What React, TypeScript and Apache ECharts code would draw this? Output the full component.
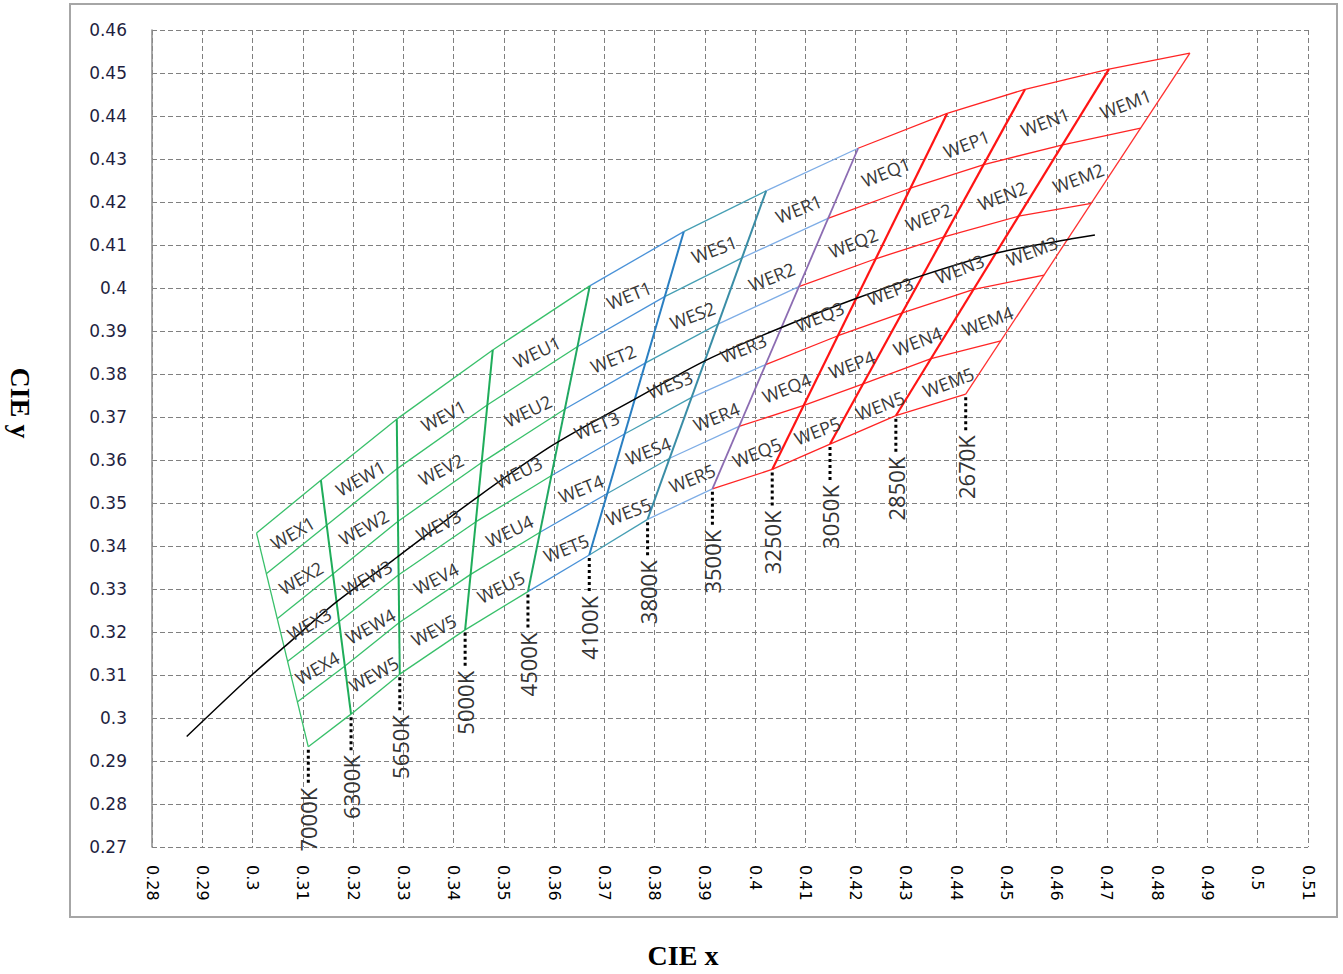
import React, { useEffect, useRef } from "react";
import * as echarts from "echarts";

// Bin columns (cool → warm) and CCT boundary labels
const columns = ["X", "W", "V", "U", "T", "S", "R", "Q", "P", "N", "M"];
const cctLabels = ["7000K", "6300K", "5650K", "5000K", "4500K", "4100K", "3800K", "3500K", "3250K", "3050K", "2850K", "2670K"];
const hiddenCells = ["WEX5"];

// Iso-CCT boundary lines: 6 vertices each, top → bottom (CIE x, CIE y)
const iso7000K = [[0.3008, 0.343], [0.3028, 0.3336], [0.3049, 0.3231], [0.307, 0.3132], [0.3089, 0.3037], [0.3111, 0.2933]];
const iso6300K = [[0.3136, 0.3553], [0.3148, 0.3449], [0.316, 0.3335], [0.3172, 0.3224], [0.3184, 0.3121], [0.3196, 0.3009]];
const iso5650K = [[0.3287, 0.3695], [0.3288, 0.358], [0.3289, 0.3457], [0.3291, 0.3333], [0.3292, 0.3222], [0.3293, 0.3102]];
const iso5000K = [[0.3478, 0.3856], [0.3467, 0.3728], [0.3456, 0.3594], [0.3444, 0.3456], [0.3434, 0.3334], [0.3423, 0.3205]];
const iso4500K = [[0.3671, 0.4005], [0.3647, 0.3864], [0.3621, 0.3718], [0.3595, 0.3564], [0.3572, 0.3432], [0.3548, 0.3294]];
const iso4100K = [[0.3858, 0.4131], [0.382, 0.398], [0.3782, 0.3826], [0.3741, 0.3661], [0.3706, 0.3522], [0.367, 0.3379]];
const iso3800K = [[0.4022, 0.4226], [0.3974, 0.407], [0.3926, 0.3916], [0.3873, 0.3745], [0.383, 0.3604], [0.3786, 0.3462]];
const iso3500K = [[0.4205, 0.4325], [0.4145, 0.4162], [0.4087, 0.4003], [0.4021, 0.3822], [0.3968, 0.3678], [0.3915, 0.3533]];
const iso3250K = [[0.4382, 0.4406], [0.4309, 0.4232], [0.424, 0.4068], [0.4165, 0.3889], [0.4097, 0.3727], [0.4034, 0.3578]];
const iso3050K = [[0.4537, 0.4462], [0.4455, 0.4287], [0.4376, 0.4119], [0.4293, 0.3942], [0.4215, 0.3777], [0.4149, 0.3637]];
const iso2850K = [[0.4704, 0.4509], [0.4612, 0.4333], [0.4524, 0.4167], [0.4435, 0.3997], [0.435, 0.3836], [0.428, 0.3703]];
const iso2670K = [[0.4865, 0.4546], [0.4767, 0.4372], [0.4669, 0.4197], [0.4575, 0.403], [0.4489, 0.3877], [0.4419, 0.3753]];
const boundaries = [iso7000K, iso6300K, iso5650K, iso5000K, iso4500K, iso4100K, iso3800K, iso3500K, iso3250K, iso3050K, iso2850K, iso2670K];

// Planckian locus (black curve)
const locusX = [0.2869, 0.2995, 0.3065, 0.3164, 0.328, 0.3293, 0.3449, 0.3598, 0.3758, 0.3904, 0.405, 0.4202, 0.4335, 0.4487, 0.462, 0.4676];
const locusY = [0.2957, 0.3096, 0.3167, 0.3267, 0.3367, 0.3379, 0.3515, 0.3635, 0.374, 0.3833, 0.3907, 0.3976, 0.403, 0.4083, 0.4112, 0.4123];

// Styles
const columnColors = ["#38c06a", "#38c06a", "#38c06a", "#38c06a", "#4a92d8", "#469fb4", "#7eade6", "#ff2424", "#ff2424", "#ff2424", "#ff2424"];
const boundaryColors = ["#38c06a", "#1fad5a", "#1fad5a", "#1fad5a", "#20a862", "#2a7fc2", "#3a8da6", "#8c6cb2", "#ff1414", "#ff1414", "#ff1414", "#ff3030"];
const boundaryWidths = [1.3, 2, 2, 2, 2, 2, 2, 1.8, 2.2, 2.2, 2.2, 1.3];
const labelAngles = [30, 29, 27, 26, 22, 21, 22, 22, 21, 21, 21];

const fmt = (v: number) => String(+Number(v).toFixed(2));

function segRender(color: string, width: number) {
  return (params: any, api: any) => {
    const p1 = api.coord([api.value(0), api.value(1)]);
    const p2 = api.coord([api.value(2), api.value(3)]);
    return {
      type: "line",
      silent: true,
      shape: { x1: p1[0], y1: p1[1], x2: p2[0], y2: p2[1] },
      style: { stroke: color, lineWidth: width },
    };
  };
}

export default function App() {
  const ref = useRef<HTMLDivElement>(null);
  useEffect(() => {
    if (!ref.current) return;
    const chart = echarts.init(ref.current, undefined, { renderer: "svg" });

    const series: any[] = [];
    // row segments per column
    columns.forEach((col, c) => {
      const data: number[][] = [];
      for (let r = 0; r < 6; r++) {
        const a = boundaries[c][r];
        const b = boundaries[c + 1][r];
        data.push([a[0], a[1], b[0], b[1]]);
      }
      series.push({
        type: "custom",
        name: "row" + col,
        data,
        encode: { x: [0, 2], y: [1, 3] },
        renderItem: segRender(columnColors[c], 1.3),
        z: 2,
      });
    });
    // iso-CCT boundaries
    boundaries.forEach((bd, i) => {
      series.push({
        type: "custom",
        name: "iso" + cctLabels[i],
        data: [[bd[0][0], bd[0][1], bd[5][0], bd[5][1]]],
        encode: { x: [0, 2], y: [1, 3] },
        renderItem: segRender(boundaryColors[i], boundaryWidths[i]),
        z: 3,
      });
    });
    // Planckian locus
    series.push({
      type: "line",
      name: "locus",
      data: locusX.map((x, i) => [x, locusY[i]]),
      showSymbol: false,
      smooth: 0.3,
      lineStyle: { color: "#000", width: 1.5 },
      z: 4,
      silent: true,
    });
    // CCT dotted markers + labels
    series.push({
      type: "custom",
      name: "cct",
      data: boundaries.map((bd, i) => [bd[5][0], bd[5][1], i]),
      encode: { x: 0, y: 1 },
      z: 5,
      renderItem: (params: any, api: any) => {
        const p = api.coord([api.value(0), api.value(1)]);
        const i = api.value(2);
        return {
          type: "group",
          children: [
            {
              type: "line",
              shape: { x1: p[0], y1: p[1] + 3, x2: p[0], y2: p[1] + 38 },
              style: { stroke: "#000", lineWidth: 3, lineDash: [3, 3] },
            },
            {
              type: "text",
              x: p[0],
              y: p[1] + 41,
              rotation: Math.PI / 2,
              style: {
                text: cctLabels[i],
                fill: "#333",
                font: '22px "Open Sans"',
                align: "right",
                verticalAlign: "middle",
              },
            },
          ],
        };
      },
    });
    // Cell labels
    const cellData: number[][] = [];
    columns.forEach((col, c) => {
      for (let r = 0; r < 5; r++) {
        const name = "WE" + col + (r + 1);
        if (hiddenCells.includes(name)) continue;
        const pts = [boundaries[c][r], boundaries[c][r + 1], boundaries[c + 1][r], boundaries[c + 1][r + 1]];
        const cx = (pts[0][0] + pts[1][0] + pts[2][0] + pts[3][0]) / 4;
        const cy = (pts[0][1] + pts[1][1] + pts[2][1] + pts[3][1]) / 4;
        cellData.push([cx, cy, c, r]);
      }
    });
    series.push({
      type: "custom",
      name: "cells",
      data: cellData,
      encode: { x: 0, y: 1 },
      z: 6,
      renderItem: (params: any, api: any) => {
        const p = api.coord([api.value(0), api.value(1)]);
        const c = api.value(2);
        const r = api.value(3);
        return {
          type: "text",
          x: p[0],
          y: p[1] + 5,
          rotation: (labelAngles[c] * Math.PI) / 180,
          style: {
            text: "WE" + columns[c] + (r + 1),
            fill: "#383838",
            font: '18px "Open Sans"',
            align: "center",
            verticalAlign: "middle",
          },
        };
      },
    });

    chart.setOption({
      animation: false,
      backgroundColor: "#fff",
      grid: { left: 152, top: 30, right: 35, bottom: 127, containLabel: false },
      xAxis: {
        type: "value",
        min: 0.28,
        max: 0.51,
        interval: 0.01,
        axisLine: { show: false },
        axisTick: { show: false },
        splitLine: { show: true, lineStyle: { color: "#808080", type: [5, 3], width: 1 } },
        axisLabel: {
          rotate: -90,
          margin: 18,
          formatter: fmt,
          fontFamily: "DejaVu Sans",
          fontSize: 16,
          color: "#000",
        },
      },
      yAxis: {
        type: "value",
        min: 0.27,
        max: 0.46,
        interval: 0.01,
        axisLine: { show: true, lineStyle: { color: "#8c8c8c", width: 1.5 } },
        axisTick: { show: false },
        splitLine: { show: true, lineStyle: { color: "#808080", type: [5, 3], width: 1 } },
        axisLabel: {
          margin: 25,
          formatter: fmt,
          fontFamily: "DejaVu Sans",
          fontSize: 17,
          color: "#1f1f3f",
        },
      },
      graphic: [
        {
          type: "rect",
          shape: { x: 70, y: 4, width: 1267, height: 913 },
          style: { fill: "none", stroke: "#a6a6a6", lineWidth: 2 },
          silent: true,
        },
        {
          type: "text",
          x: 683,
          y: 955,
          style: {
            text: "CIE x",
            fill: "#000",
            font: 'bold 28px "Liberation Serif"',
            align: "center",
            verticalAlign: "middle",
          },
        },
        {
          type: "text",
          x: 20,
          y: 403,
          rotation: -Math.PI / 2,
          style: {
            text: "CIE y",
            fill: "#000",
            font: 'bold 28px "Liberation Serif"',
            align: "center",
            verticalAlign: "middle",
          },
        },
      ],
      series,
    });
    return () => chart.dispose();
  }, []);
  return <div ref={ref} style={{ position: "absolute", left: 0, top: 0, width: 1343, height: 974 }} />;
}
